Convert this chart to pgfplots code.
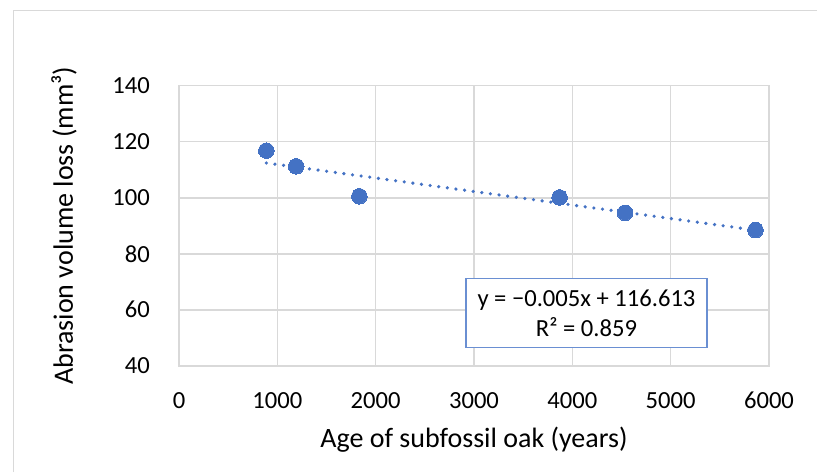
\documentclass[border=0pt]{standalone}
\usepackage{fontspec}
\setmainfont{Carlito}
\usepackage{pgfplots}
\pgfplotsset{compat=1.18}
\definecolor{xblue}{HTML}{4472C4}
\definecolor{boxblue}{HTML}{6A8FD2}
\definecolor{xgrid}{HTML}{D9D9D9}
\begin{document}
\begin{tikzpicture}
\useasboundingbox (0,0) rectangle (817pt,472pt);
\draw[xgrid, line width=1pt] (13pt,0) -- (13pt,461pt) -- (817pt,461pt);
\begin{axis}[at={(179pt,106.3pt)}, anchor=south west, scale only axis,
  width=590pt, height=280pt,
  xmin=0, xmax=6000, ymin=40, ymax=140,
  xtick={0,1000,...,6000}, ytick={40,60,...,140},
  grid=major, major grid style={xgrid, line width=1.6pt},
  axis line style={xgrid, line width=1.6pt},
  major tick length=0pt,
  clip=false,
  /pgf/number format/assume math mode=true,
  /pgf/number format/set thousands separator={},
  tick label style={font=\fontsize{24.6}{29}\selectfont, inner sep=0pt},
  xticklabel style={anchor=base, yshift=-42.6pt},
  yticklabel style={anchor=east, xshift=-29pt},
  xlabel={Age of subfossil oak (years)},
  ylabel={Abrasion volume loss (mm³)},
  label style={font=\fontsize{28}{33}\selectfont, inner sep=0pt},
  xlabel style={at={(axis description cs:0.5,-0.2939)}, anchor=base},
  ylabel style={at={(axis description cs:-0.1797,0.5)}, anchor=base},
]
\addplot[xblue, line width=3.6pt, dash pattern=on 0pt off 8.7pt, line cap=round]
  coordinates {(888,112.4) (5863,88.4)};
\addplot[only marks, mark=*, mark size=7.8pt, mark options={fill=xblue, draw=xblue, line width=0pt}]
  coordinates {(888,116.8) (1192,111.2) (1834,100.5) (3870,100.1) (4536,94.6) (5863,88.4)};
\node[draw=boxblue, fill=white, line width=1.3pt, minimum width=241pt, minimum height=69.4pt,
  align=center, inner sep=0pt, font=\fontsize{24.6}{30}\selectfont]
  at (axis cs:4144,58.8) {y = −0.005x + 116.613\\R² = 0.859};
\end{axis}
\end{tikzpicture}
\end{document}
